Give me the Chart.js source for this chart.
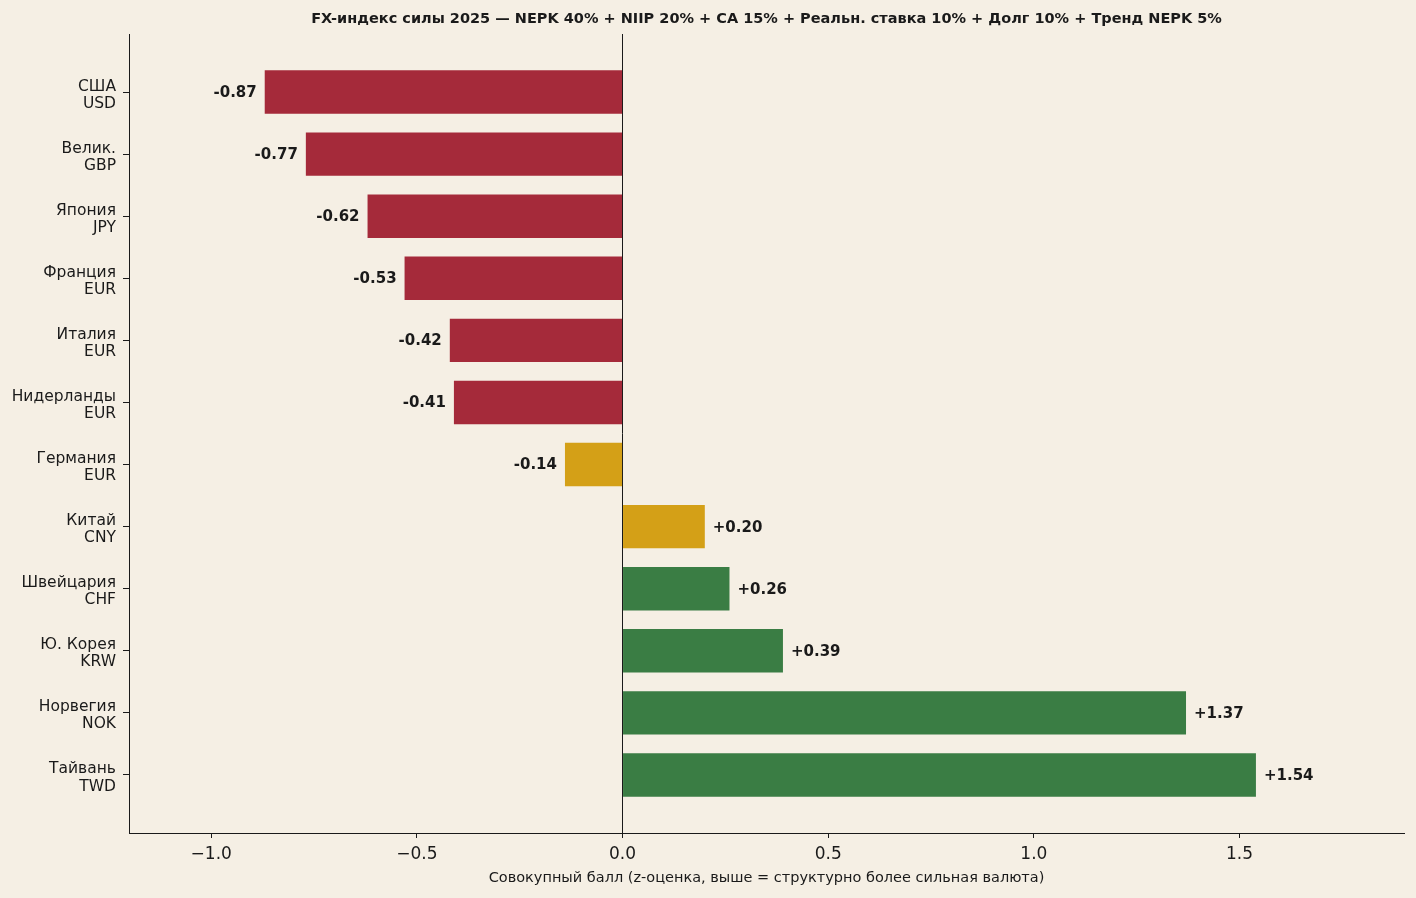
<!DOCTYPE html>
<html><head><meta charset="utf-8">
<script src="https://cdn.jsdelivr.net/npm/chart.js@4/dist/chart.umd.min.js"></script>
<style>html,body{margin:0;padding:0;background:#f5efe4;overflow:hidden;} canvas{display:block;}</style>
</head><body><canvas id="c" width="1416" height="898"></canvas>
<script>
const countries = ['США','Велик.','Япония','Франция','Италия','Нидерланды','Германия','Китай','Швейцария','Ю. Корея','Норвегия','Тайвань'];
const currencies = ['USD','GBP','JPY','EUR','EUR','EUR','EUR','CNY','CHF','KRW','NOK','TWD'];
const scores = [-0.87,-0.77,-0.62,-0.53,-0.42,-0.41,-0.14,0.20,0.26,0.39,1.37,1.54];
const xTicks = [-1.0,-0.5,0.0,0.5,1.0,1.5];
const chartTitle = 'FX-индекс силы 2025 — NEPK 40% + NIIP 20% + CA 15% + Реальн. ставка 10% + Долг 10% + Тренд NEPK 5%';
const xTitle = 'Совокупный балл (z-оценка, выше = структурно более сильная валюта)';

const FONT = '"DejaVu Sans", sans-serif';
const INK = '#1a1a1a';
function colorFor(v){ if (v <= -0.3) return '#a52a3a'; if (v < 0.25) return '#d4a017'; return '#3a7d44'; }
function fmtTick(v){ const s = Math.abs(v).toFixed(1); return v < 0 ? '\u2212' + s : s; }

const valueLabels = {
  id: 'valueLabels',
  afterDatasetsDraw(chart){
    const {ctx, scales:{x, y}} = chart;
    ctx.save();
    ctx.font = 'bold 15px ' + FONT;
    ctx.fillStyle = INK;
    ctx.textBaseline = 'middle';
    scores.forEach((v, i) => {
      const px = x.getPixelForValue(v), py = y.getPixelForValue(i) + 1;
      if (v < 0) { ctx.textAlign = 'right'; ctx.fillText(v.toFixed(2), px - 8, py); }
      else { ctx.textAlign = 'left'; ctx.fillText('+' + v.toFixed(2), px + 8, py); }
    });
    ctx.restore();
  }
};

new Chart(document.getElementById('c'), {
  type: 'bar',
  data: {
    datasets: [{
      data: scores.map((v, i) => ({x: v, y: i})),
      backgroundColor: scores.map(colorFor),
      borderWidth: 0,
      categoryPercentage: 1,
      barPercentage: 0.7
    }]
  },
  plugins: [valueLabels],
  options: {
    indexAxis: 'y',
    responsive: false,
    animation: false,
    layout: {padding: {left: 0, right: 12, top: 0, bottom: 0}},
    plugins: {
      legend: {display: false},
      tooltip: {enabled: false},
      title: {display: true, text: chartTitle, fullSize: false, color: INK,
        font: {family: FONT, size: 14.5, weight: 'bold', lineHeight: 1.2}, padding: {top: 11, bottom: 5.6}}
    },
    scales: {
      x: {
        type: 'linear', min: -1.2, max: 1.9, z: 1, offset: false,
        afterBuildTicks: a => { a.ticks = xTicks.map(v => ({value: v})); },
        ticks: {callback: v => fmtTick(v), color: INK, font: {family: FONT, size: 17}, padding: 6, maxRotation: 0, autoSkip: false},
        grid: {color: c => (c.tick && c.tick.value === 0) ? INK : 'transparent', lineWidth: 1, tickColor: INK, tickLength: 5, offset: false},
        border: {display: true, color: INK, width: 1},
        title: {display: true, text: xTitle, color: INK, font: {family: FONT, size: 14.5}, padding: {top: 0, bottom: 11}},
        afterFit: a => { a.height = 65; }
      },
      y: {
        type: 'linear', reverse: true, min: -0.935, max: 11.935, offset: false,
        afterBuildTicks: a => { a.ticks = countries.map((c, i) => ({value: i})); },
        ticks: {callback: v => [countries[v], currencies[v]], color: INK, font: {family: FONT, size: 15.5, lineHeight: 1.1}, padding: 7, labelOffset: 3, autoSkip: false},
        grid: {color: 'transparent', tickColor: INK, tickLength: 6, offset: false},
        border: {display: true, color: INK, width: 1},
        afterFit: a => { a.width = 129; }
      }
    }
  }
});
</script>
</body></html>
